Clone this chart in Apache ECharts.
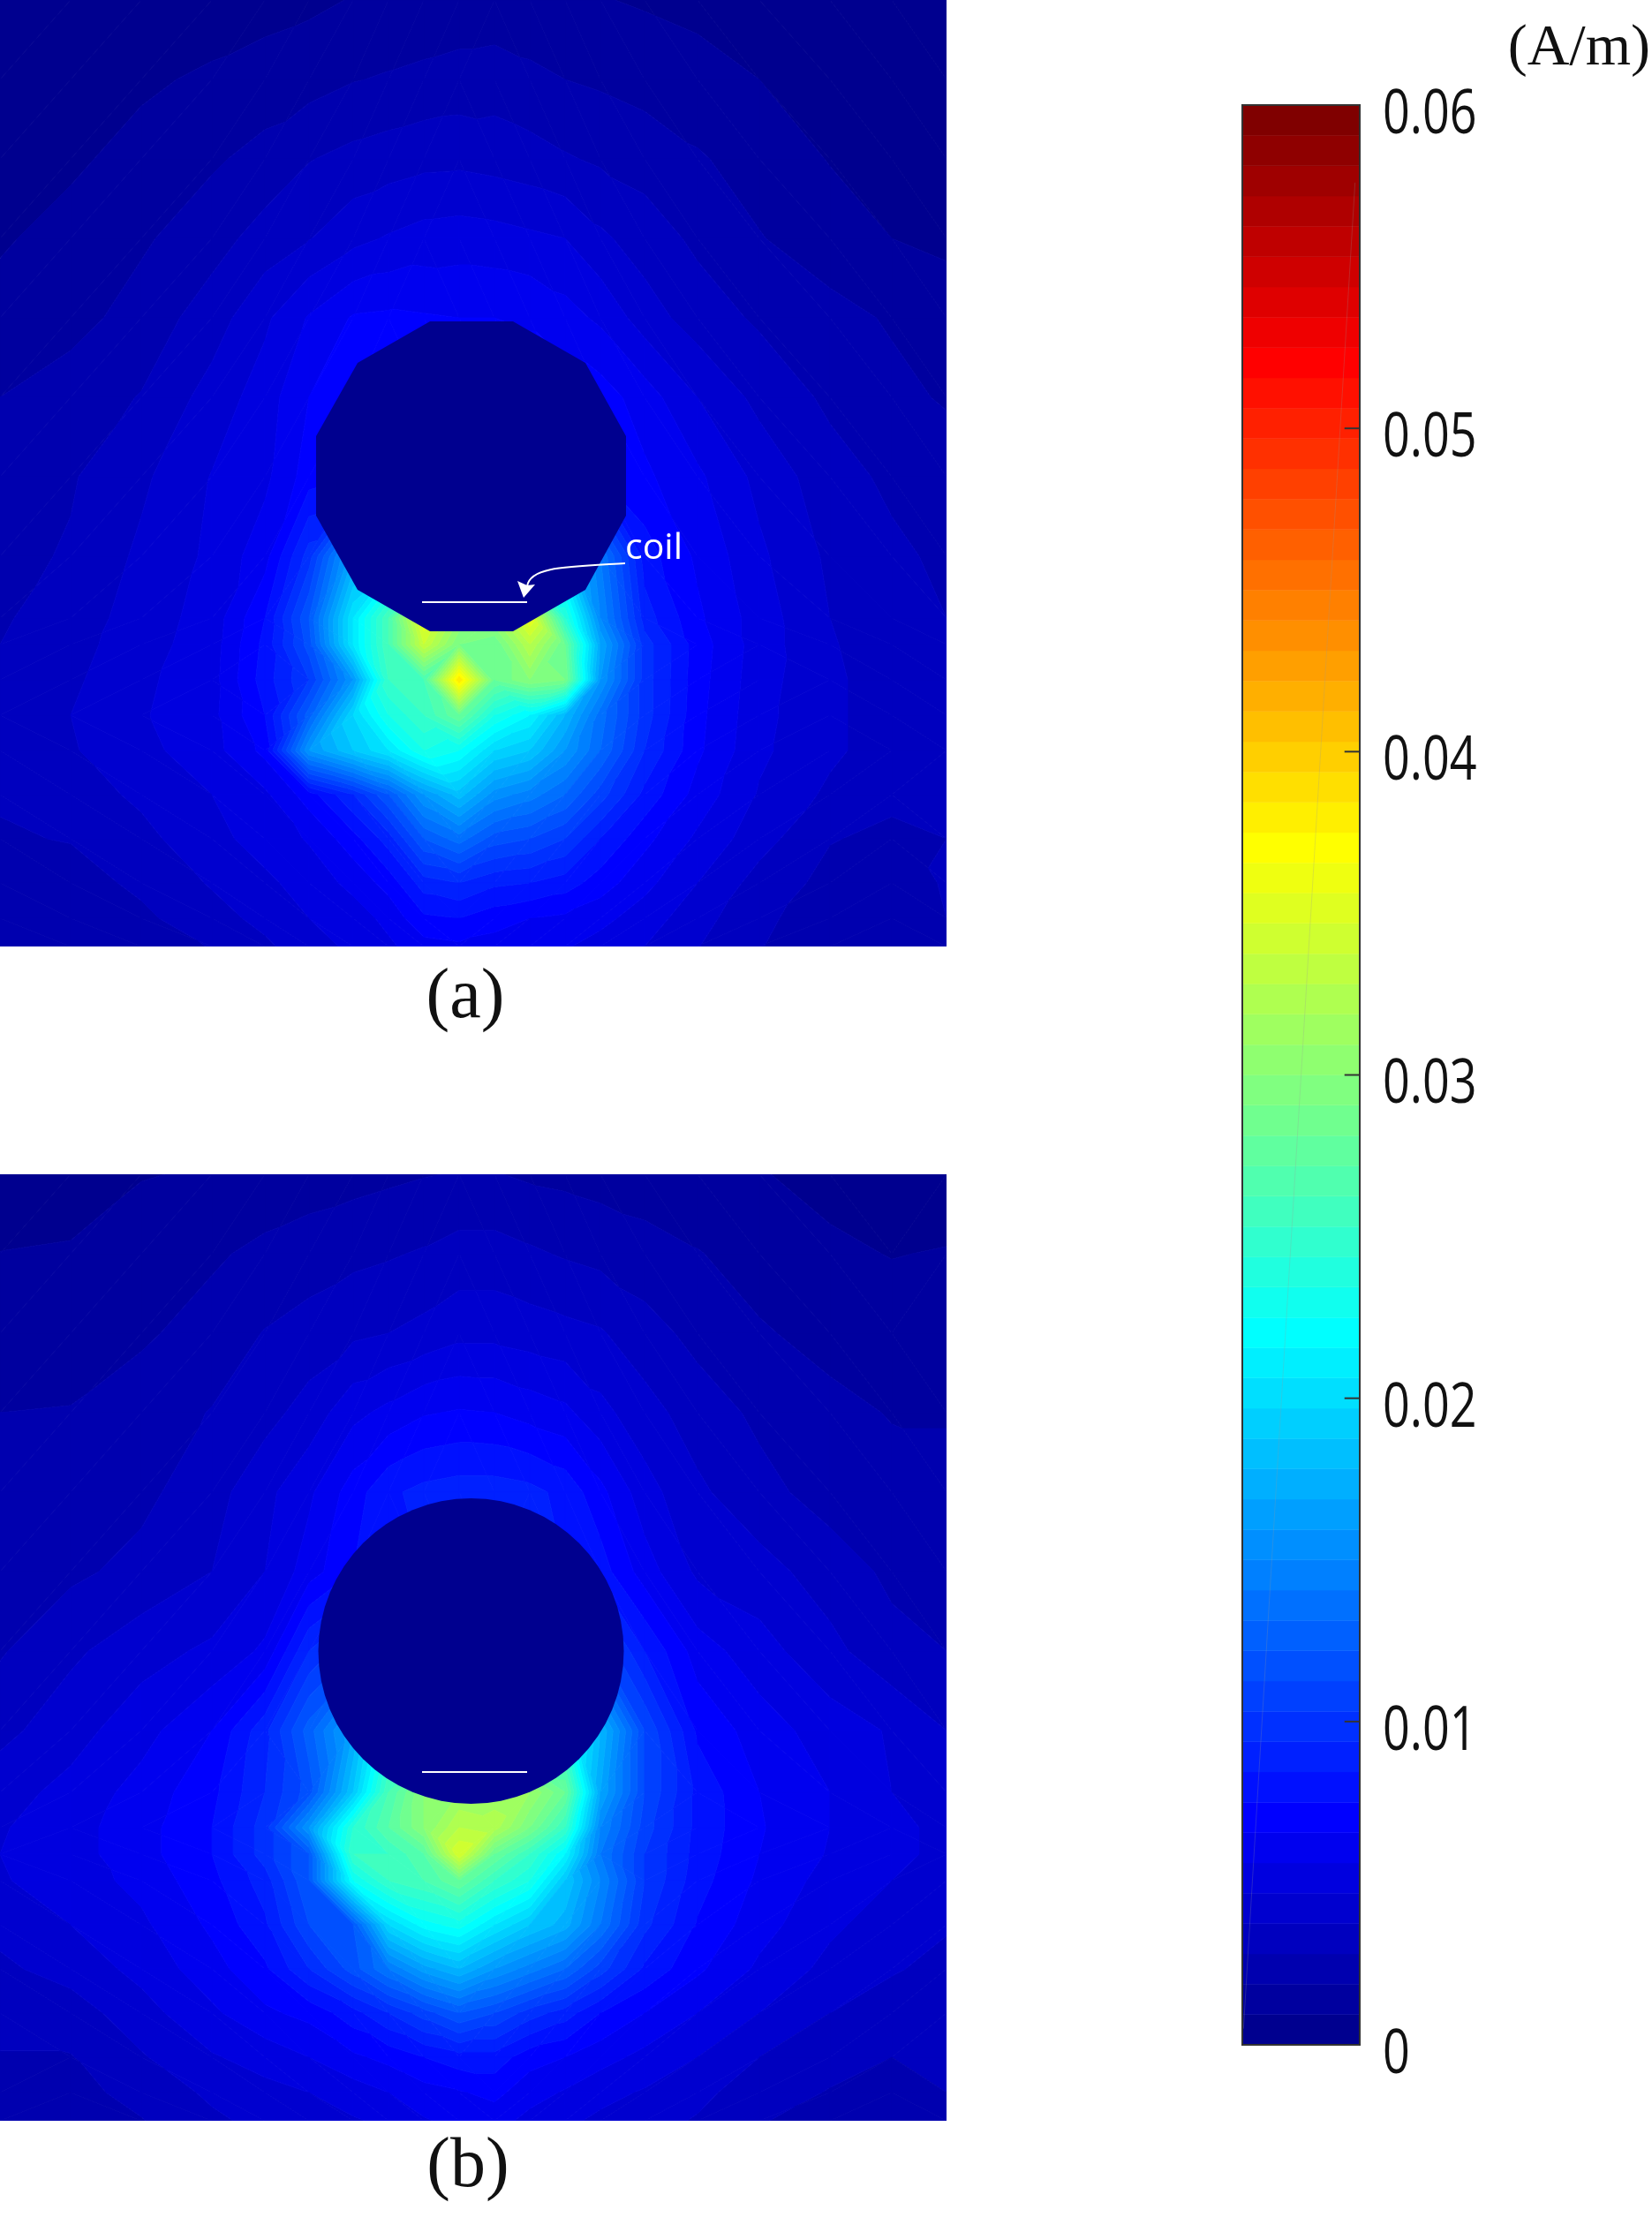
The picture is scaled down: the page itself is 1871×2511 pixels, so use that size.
<!DOCTYPE html>
<html>
<head>
<meta charset="utf-8">
<title>Surface current density</title>
<script src="https://cdn.jsdelivr.net/npm/echarts@6/dist/echarts.min.js"></script>
<style>html,body{margin:0;padding:0;background:#fff}#c{width:1871px;height:2511px}</style>
</head>
<body>
<div id="c"></div>
<script>
// Colour-bar scale (A/m)
const scaleMax = 0.06;
const bandCount = 64;
const colorbarTicks = [0, 0.01, 0.02, 0.03, 0.04, 0.05, 0.06];
const colorbarTickLabels = ['0','0.01','0.02','0.03','0.04','0.05','0.06'];
const meshX = [0,80,160,240,300,350,400,440,480,520,560,600,640,680,730,790,860,940,1010,1072];
const meshYA = [0,90,180,270,360,450,540,630,700,730,770,810,850,900,950,1000,1040,1072];
const meshYB = [0,90,180,270,360,450,540,630,700,740,770,800,850,900,950,1000,1040,1072];
const fieldA = [
[.2,.25,.35,.5,.65,.8,1.05,1.15,1.25,1.35,1.35,1.25,1.15,1.05,.9,.7,.5,.3,.2,.2],
[.3,.5,.85,1.15,1.4,1.6,1.95,2.1,2.25,2.4,2.5,2.25,2.0,1.85,1.6,1.4,1.0,.7,.5,.4],
[.55,.85,1.3,1.85,2.35,2.95,3.3,3.5,3.7,3.75,3.6,3.4,3.1,2.85,2.6,2.1,1.6,.95,.6,.5],
[.9,1.3,1.85,2.6,3.4,3.95,4.7,5.1,5.4,5.5,5.4,5.2,5,4.2,3.5,2.8,2.05,1.5,1,.8],
[1.3,1.65,2.4,3.5,4.8,6.1,7.1,7.2,7.1,7,7,6.9,6.4,5.8,4.5,3.5,2.85,2.3,1.9,1.5],
[2,2.5,3.05,4.4,5.5,7,7.5,7.5,7.5,7.5,7.5,7.5,7.5,7.5,6.5,5,3.7,2.8,2.25,1.9],
[2.3,2.9,3.8,5.05,5.75,7.5,8,8,8,8,8,8,8,8,7.2,6.2,4.7,3.4,2.8,2.5],
[2.7,3.1,4.2,5.2,6.6,10.5,18,20,20,20,20,20,20,15,8.5,6.8,5.2,3.8,3.2,2.8],
[2.9,3.4,4.5,5.4,8,13,22,28,38,33,33,38,26,16,9.5,7.2,5.5,4,3.4,3],
[3,3.6,4.6,5.5,8.3,12.5,22,28,36,31,30,35,30,18,10.5,7.5,5.5,4.1,3.4,3.1],
[3.1,3.8,4.8,5.6,8.5,11,17,27,28,41,30,32,31,17,10.5,7.4,5.4,4.2,3.5,3.1],
[3.3,4,4.9,5.7,8,13.5,21,25,27,30,25,23,19,14.5,10.5,7.3,5.3,4.2,3.5,3.2],
[3.3,3.9,4.7,5.6,7.3,17,20,22,25,24,21,20,17,14,10,7.2,5.2,4.2,3.5,3.3],
[3.1,3.5,4.2,5,5.8,7.5,10,13,17,19.5,16.5,15.5,14,11.5,8.7,6.6,4.9,3.8,3.2,3.1],
[2.9,3.05,3.7,4.7,5.4,6.1,7.6,9.5,13,14.5,12.5,12,11,9,7.3,5.8,4.4,3.05,2.8,3],
[2.6,2.6,3.2,4.1,4.8,5.4,6.3,7.4,9.5,10,9.2,9,8.5,7.5,6.3,5,3.6,2.7,2.5,3.1],
[2.3,2.3,2.8,3.6,4.3,5,5.5,6.3,7.8,8,7.4,7,6.8,6.3,5.5,4.4,3.2,2.5,2.4,3],
[2.1,2.1,2.5,3.05,3.8,4.6,5.2,5.8,6.6,6.8,6.6,6.4,6.1,5.6,5,4.05,3.05,2.4,2.3,3]
];
const fieldB = [
[.3,.5,.95,1.1,1.3,1.5,1.65,1.8,1.95,2.05,2.05,1.85,1.75,1.6,1.45,1.3,1.05,.75,.5,.5],
[1.02,1.1,1.5,1.85,2.25,2.5,2.75,2.9,3.1,3.4,3.4,3.15,2.9,2.7,2.4,2.05,1.6,1.15,.97,1.05],
[1.2,1.5,1.85,2.4,3.05,3.4,3.8,4,4.3,4.7,4.7,4.5,4.3,4.1,3.4,2.7,2.1,1.7,1.4,1.4],
[2,2.05,2.5,3.05,3.65,4.4,5.7,6.3,6.9,7.1,7,6.6,6.25,5.3,4.4,3.5,2.8,2.25,1.95,1.95],
[2.2,2.4,2.75,3.6,4.7,5.8,7.5,8.8,9.3,9.5,9.5,9.3,8.7,7.3,5.4,4.2,3.3,2.6,2.3,2.2],
[2.9,2.8,3.3,4,5,6.5,8,9,9,9,9,9,9,8.5,6.5,4.8,4.4,3.5,2.8,2.5],
[2.9,3.8,4.6,5.2,6.2,10,12,12,12,12,12,12,12,12,9,6.5,5.4,4.3,3.3,3],
[3.7,4.6,5.6,7,9.7,13.5,18,25,25,25,25,25,25,19,12,7.8,6.5,5.5,4.9,4],
[4.6,5.3,6.4,7.7,10,12.5,20,28,32,33,33.5,33,30,18,12,8.7,7,6,5,4.6],
[4.9,5.6,6.6,8,10.5,17,26,29,32,35,34.5,31,27,16,11.5,8.7,7.1,6,5.2,4.8],
[5,5.6,6.6,8,10.5,13,27,27,29,37,30,27,23,15,11,8.6,7,5.9,5.2,4.8],
[4.9,5.5,6.3,7.7,9.5,13,24,27,28,30,27,25,20,16,11,8.4,6.8,5.6,5,4.7],
[4.3,5,5.8,7.2,8.8,12,13,21,23.5,24.5,22,20,18.5,15,10.3,7.9,6.4,5.2,4.5,4.1],
[3.8,4.4,5.3,6.6,7.8,10,12.5,15,17.5,19,17,15.5,14,11.5,8.8,7.2,5.8,4.7,4.1,3.7],
[3.3,3.5,4.6,5.8,6.8,7.3,8.6,10,11.5,13,12,10.5,9.5,8,7,6,5,4,3.5,3.3],
[2.95,2.95,3.9,4.9,5.4,6,6.8,7.3,8,8.6,8.6,7.4,7,6.4,5.7,5,4,3.3,3,3.1],
[2.8,2.7,3.3,4.2,4.7,5,5.5,6,6.6,6.9,7.3,6.4,5.9,5.3,4.9,4.3,3.4,2.95,2.7,3],
[2.7,2.5,2.95,3.8,4.3,4.7,4.9,5.2,5.9,6.3,6.4,5.7,5.2,4.8,4.4,3.9,3.05,2.7,2.6,2.9]
];
// Hole in panel (a): polygon outline, panel (b): circle; and the coil marks
const holeA = [[487,364],[581,364],[663,411],[709,494],[709,584],[663,668],[581,715],[487,715],[405,668],[358,584],[358,494],[405,411]];
const holeB = {center:[533.5,540], radius:173};
const coilLineA = [[478,682],[597,682]];
const coilLineB = [[478,677],[597,677]];
const arrowCurve = [[708,638],[640,642],[600,642],[597,664]];
const arrowHead = [[593,677],[586,658],[597,663],[606,662]];
const colorbarDiagonal = [[.01,.0005],[.96,.0576]];

const step = scaleMax / bandCount;
function jet(i){
  const t=(i+1)/bandCount, c=v=>Math.round(255*Math.min(1,Math.max(0,v)));
  return 'rgb('+c(1.5-Math.abs(4*t-3))+','+c(1.5-Math.abs(4*t-2))+','+c(1.5-Math.abs(4*t-1))+')';
}
const colors = Array.from({length:bandCount},(_,i)=>jet(i));
const holeColor = colors[0];

// Clip a triangle [x,y,v] to one colour band
function clipBand(poly,lim,keepAbove){
  const out=[];
  for(let k=0;k<poly.length;k++){
    const a=poly[k],b=poly[(k+1)%poly.length];
    const ia=keepAbove?a[2]>=lim:a[2]<=lim, ib=keepAbove?b[2]>=lim:b[2]<=lim;
    if(ia) out.push(a);
    if(ia!==ib){const s=(lim-a[2])/(b[2]-a[2]);out.push([a[0]+s*(b[0]-a[0]),a[1]+s*(b[1]-a[1]),lim]);}
  }
  return out;
}
function triangleBands(tri,api,children){
  const vs=tri.map(p=>p[2]);
  const lo=Math.floor(Math.min(...vs)/step+1e-9);
  const hi=Math.max(lo,Math.min(bandCount-1,Math.floor(Math.max(...vs)/step-1e-9)));
  for(let b=lo;b<=hi;b++){
    let p=clipBand(tri,b*step-1e-12,true);
    if(p.length>2) p=clipBand(p,(b+1)*step+1e-12,false);
    if(p.length<3) continue;
    children.push({type:'polygon',shape:{points:p.map(q=>api.coord([q[0],q[1]]))},
      style:{fill:colors[b],stroke:colors[b],lineWidth:.8}});
  }
}
function fieldSeries(idx,ys,rows){
  const cells=[];
  for(let j=0;j<ys.length-1;j++)for(let i=0;i<meshX.length-1;i++)cells.push([meshX[i],ys[j],i,j]);
  return {type:'custom',xAxisIndex:idx,yAxisIndex:idx,silent:true,clip:true,animation:false,data:cells,
    encode:{x:0,y:1},
    renderItem(params,api){
      const i=api.value(2),j=api.value(3);
      const n=(a,b)=>[meshX[a],ys[b],rows[b][a]*step];
      const p00=n(i,j),p10=n(i+1,j),p01=n(i,j+1),p11=n(i+1,j+1),ch=[];
      if(Math.abs(p00[2]-p11[2])<=Math.abs(p10[2]-p01[2])){
        triangleBands([p00,p10,p11],api,ch);triangleBands([p00,p11,p01],api,ch);
      }else{
        triangleBands([p00,p10,p01],api,ch);triangleBands([p10,p11,p01],api,ch);
      }
      return {type:'group',children:ch};
    }};
}
function polygonSeries(idx,points,color){
  return {type:'custom',xAxisIndex:idx,yAxisIndex:idx,silent:true,animation:false,data:[points[0]],encode:{x:0,y:1},
    renderItem(params,api){return {type:'polygon',shape:{points:points.map(p=>api.coord(p))},style:{fill:color}};}};
}
function lineSeries(idx,points,color,width,opacity){
  return {type:'line',xAxisIndex:idx,yAxisIndex:idx,silent:true,animation:false,showSymbol:false,symbol:'none',data:points,
    lineStyle:{color:color,width:width,opacity:opacity===undefined?1:opacity}};
}
const hidden=(i,max,inv)=>({gridIndex:i,type:'value',min:0,max:max,inverse:!!inv,show:false});
const numberFont='"Open Sans",sans-serif';
const serifFont='"Liberation Serif",serif';

const option={
  backgroundColor:'#fff',animation:false,
  grid:[
    {left:0,top:0,width:1072,height:1072},
    {left:0,top:1330,width:1072,height:1072},
    {left:1407,top:119,width:133,height:2197,show:true,borderColor:'#333',borderWidth:2,backgroundColor:'transparent',z:5}
  ],
  xAxis:[hidden(0,1072),hidden(1,1072),hidden(2,1)],
  yAxis:[hidden(0,1072,true),hidden(1,1072,true),hidden(2,scaleMax)],
  series:[
    fieldSeries(0,meshYA,fieldA),
    polygonSeries(0,holeA,holeColor),
    lineSeries(0,coilLineA,'#fff',2),
    {type:'custom',xAxisIndex:0,yAxisIndex:0,silent:true,animation:false,data:[arrowCurve[0]],encode:{x:0,y:1},
     renderItem(params,api){
       const q=arrowCurve.map(p=>api.coord(p));
       return {type:'group',children:[
         {type:'bezierCurve',shape:{x1:q[0][0],y1:q[0][1],cpx1:q[1][0],cpy1:q[1][1],cpx2:q[2][0],cpy2:q[2][1],x2:q[3][0],y2:q[3][1]},style:{stroke:'#fff',lineWidth:2,fill:null}},
         {type:'polygon',shape:{points:arrowHead.map(p=>api.coord(p))},style:{fill:'#fff'}}
       ]};
     }},
    fieldSeries(1,meshYB,fieldB),
    {type:'custom',xAxisIndex:1,yAxisIndex:1,silent:true,animation:false,data:[holeB.center],encode:{x:0,y:1},
     renderItem(params,api){
       const c=api.coord(holeB.center),r=api.size([holeB.radius,0])[0];
       return {type:'circle',shape:{cx:c[0],cy:c[1],r:r},style:{fill:holeColor}};
     }},
    lineSeries(1,coilLineB,'#fff',2),
    {type:'custom',xAxisIndex:2,yAxisIndex:2,silent:true,animation:false,
     data:colors.map((_,i)=>[0,i]),encode:{x:0,y:1},
     renderItem(params,api){
       const i=api.value(1),a=api.coord([0,(i+1)*step]),b=api.coord([1,i*step]);
       return {type:'rect',shape:{x:a[0],y:a[1],width:b[0]-a[0],height:b[1]-a[1]},style:{fill:colors[i],stroke:colors[i],lineWidth:.5}};
     }},
    lineSeries(2,colorbarDiagonal,'#999',1,.25),
    {type:'custom',xAxisIndex:2,yAxisIndex:2,silent:true,animation:false,clip:false,z:7,
     data:colorbarTicks.map((v,i)=>[1,v,i]),encode:{x:0,y:1},
     renderItem(params,api){
       const v=api.value(1),p=api.coord([1,v]),q=api.coord([0.87,v]);
       return {type:'group',children:[
         {type:'line',shape:{x1:p[0],y1:p[1],x2:q[0],y2:q[1]},style:{stroke:'#333',lineWidth:2}},
         {type:'text',x:p[0]+26,y:p[1]+12,scaleX:.77,style:{text:colorbarTickLabels[api.value(2)],fill:'#111',font:'70px '+numberFont,align:'left',verticalAlign:'middle'}}
       ]};
     }}
  ],
  graphic:[
    {type:'text',left:708,top:601,silent:true,z:20,style:{text:'coil',fill:'#fff',font:'41px "Open Sans",sans-serif'}},
    {type:'text',x:527,y:1131,silent:true,style:{text:'(a)',fill:'#111',font:'80px '+serifFont,align:'center',verticalAlign:'middle'}},
    {type:'text',x:530,y:2455,silent:true,style:{text:'(b)',fill:'#111',font:'80px '+serifFont,align:'center',verticalAlign:'middle'}},
    {type:'text',x:1869,y:56,silent:true,style:{text:'(A/m)',fill:'#111',font:'66px '+serifFont,align:'right',verticalAlign:'middle'}}
  ]
};
const chart=echarts.init(document.getElementById('c'),null,{renderer:'canvas'});
chart.setOption(option);
</script>
</body>
</html>
